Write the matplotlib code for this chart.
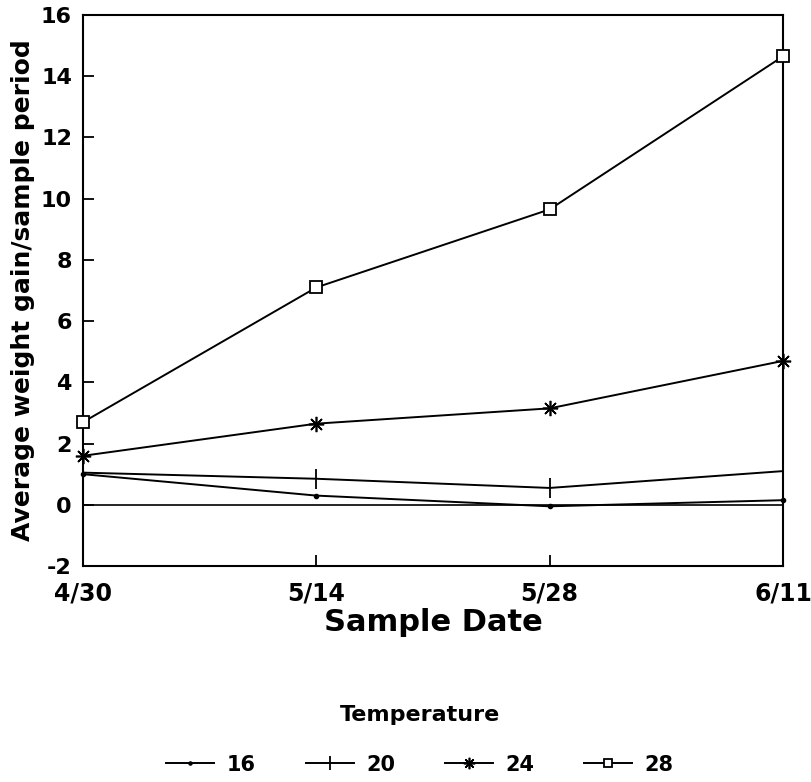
import matplotlib
matplotlib.use("Agg")
import matplotlib.pyplot as plt

plt.rcParams['font.family'] = ['DejaVu Sans']
plt.rcParams['font.weight'] = 'bold'
plt.rcParams['axes.unicode_minus'] = False

dates = ["4/30", "5/14", "5/28", "6/11"]
temps = ["16", "20", "24", "28"]
gain_16 = [1.0, 0.3, -0.05, 0.15]
gain_20 = [1.05, 0.85, 0.55, 1.1]
gain_24 = [1.6, 2.65, 3.15, 4.7]
gain_28 = [2.7, 7.1, 9.65, 14.65]
yticks = [-2, 0, 2, 4, 6, 8, 10, 12, 14, 16]

fig = plt.figure(figsize=(8.11, 7.82), dpi=100)
ax = fig.add_axes([83/811, 1 - 566/782, 700/811, 551/782])

x = list(range(len(dates)))
series = [
    (gain_16, dict(marker='o', markersize=3)),
    (gain_20, dict(marker='|', markersize=14, markeredgewidth=1.3)),
    (gain_24, dict(marker=(8, 2, 0), markersize=11, markeredgewidth=1.2)),
    (gain_28, dict(marker='s', markersize=8, markerfacecolor='white', markeredgewidth=1.3)),
]
handles = []
for vals, style in series:
    ln, = ax.plot(x, vals, color='black', lw=1.4, clip_on=False, zorder=3, **style)
    handles.append(ln)

ax.axhline(0, color='black', lw=1.2, zorder=2)

ax.set_xlim(0, 3)
ax.set_ylim(-2, 16)
ax.set_xticks(x)
ax.set_xticklabels(dates)
ax.set_yticks(yticks)
ax.tick_params(axis='both', direction='in', length=8, width=1.3)
ax.tick_params(axis='y', labelsize=16, pad=8)
ax.tick_params(axis='x', labelsize=17, pad=11)
for s in ax.spines.values():
    s.set_linewidth(1.5)

ax.set_ylabel("Average weight gain/sample period", fontsize=18, fontweight='bold', va='center')
ax.yaxis.set_label_coords(-0.085, 0.5)
ax.set_xlabel("Sample Date", fontsize=22, fontweight='bold', va='center')
ax.xaxis.set_label_coords(0.5, -0.103)

leg = fig.legend(handles, temps, loc='center', bbox_to_anchor=(420/811, 1 - 740/782),
                 ncol=4, frameon=False, title="Temperature", fontsize=15,
                 title_fontproperties={'size': 16, 'weight': 'bold'},
                 handlelength=2.3, columnspacing=2.4, handletextpad=0.6,
                 markerscale=0.75)
leg._legend_box.sep = 21

fig.savefig("out.png", dpi=100)
